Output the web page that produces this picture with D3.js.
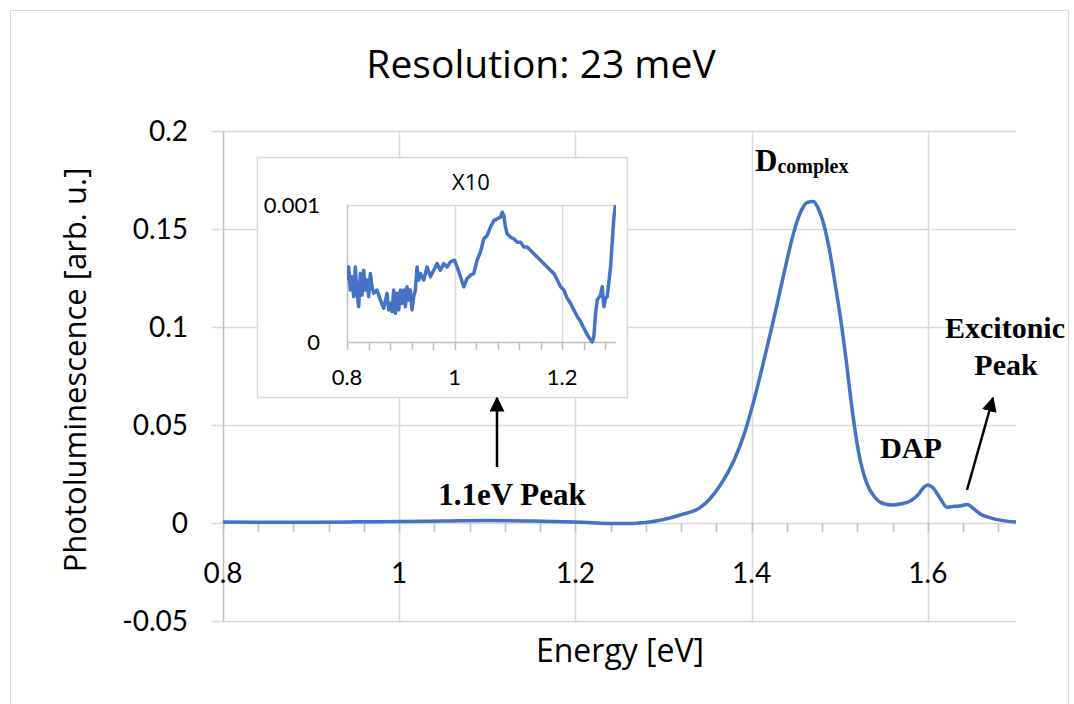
<!DOCTYPE html>
<html>
<head>
<meta charset="utf-8">
<script src="https://cdnjs.cloudflare.com/ajax/libs/d3/7.8.5/d3.min.js"></script>
<style>
  body { margin: 0; background: #fff; }
  svg { display: block; }
</style>
</head>
<body>
<svg id="chart" width="1074" height="704"></svg>
<script>
'use strict';

// main spectrum
var mainEnergy = [0.80, 0.85, 0.90, 0.95, 1.00, 1.05, 1.10, 1.15, 1.20, 1.25, 1.28, 1.30, 1.319, 1.341, 1.353,
  1.364, 1.380, 1.392, 1.404, 1.415, 1.426, 1.437, 1.447, 1.455, 1.463, 1.470, 1.476, 1.482, 1.488,
  1.494, 1.500, 1.507, 1.514, 1.521, 1.530, 1.540, 1.550, 1.560, 1.570, 1.580, 1.588, 1.595, 1.600,
  1.606, 1.614, 1.622, 1.630, 1.636, 1.645, 1.652, 1.660, 1.671, 1.685, 1.700];
var mainPL = [0.0005, 0.0004, 0.0004, 0.0006, 0.0008, 0.0010, 0.0013, 0.0010, 0.0005, -0.0003, 0.0003, 0.0018, 0.0041, 0.0077, 0.0125,
  0.0190, 0.032, 0.046, 0.065, 0.085, 0.106, 0.128, 0.147, 0.158, 0.1635, 0.164, 0.160, 0.152, 0.140,
  0.124, 0.107, 0.084, 0.058, 0.037, 0.021, 0.013, 0.0098, 0.0092, 0.0098, 0.0112, 0.0140, 0.0180, 0.0194,
  0.0178, 0.0125, 0.0080, 0.0085, 0.0087, 0.0095, 0.0072, 0.0045, 0.0026, 0.0012, 0.0005];

// inset (X10) low energy part
var insetEnergy = [0.8000, 0.8031, 0.8062, 0.8093, 0.8124, 0.8155, 0.8186, 0.8217, 0.8248, 0.8279, 0.8310, 0.8341,
  0.8372, 0.8403, 0.8434, 0.8465, 0.8496, 0.8558, 0.8620, 0.8682, 0.8744, 0.8775, 0.8806, 0.8837, 0.8868,
  0.8899, 0.8930, 0.8961, 0.8992, 0.9023, 0.9054, 0.9085, 0.9116, 0.9147, 0.9178, 0.9209, 0.9240, 0.9271,
  0.9302, 0.9333, 0.9364, 0.9426, 0.9488, 0.9550, 0.9612, 0.9674, 0.9736, 0.9798, 0.9860, 0.9922, 0.9997,
  1.0047, 1.0109, 1.0171, 1.0233, 1.0295, 1.0357, 1.0419, 1.0481, 1.0543, 1.0605, 1.0667, 1.0729, 1.0791,
  1.0853, 1.0884, 1.0915, 1.0946, 1.0977, 1.1039, 1.1101, 1.1163, 1.1225, 1.1287, 1.1349, 1.1411, 1.1473,
  1.1535, 1.1597, 1.1659, 1.1721, 1.1783, 1.1845, 1.1907, 1.1969, 1.2031, 1.2093, 1.2155, 1.2217, 1.2279,
  1.2341, 1.2403, 1.2465, 1.2527, 1.2558, 1.2589, 1.2620, 1.2651, 1.2713, 1.2744, 1.2775, 1.2806, 1.2837,
  1.2899, 1.2961, 1.2992, 1.3010];
var insetPL = [0.000452, 0.000548, 0.000379, 0.000476, 0.000331, 0.000548, 0.000355, 0.000258, 0.000500, 0.000343, 0.000524, 0.000379,
  0.000452, 0.000331, 0.000500, 0.000403, 0.000355, 0.000379, 0.000307, 0.000246, 0.000355, 0.000234, 0.000283, 0.000222, 0.000379,
  0.000210, 0.000355, 0.000234, 0.000379, 0.000283, 0.000379, 0.000258, 0.000403, 0.000307, 0.000379, 0.000234, 0.000331, 0.000379,
  0.000548, 0.000452, 0.000500, 0.000452, 0.000548, 0.000476, 0.000524, 0.000572, 0.000524, 0.000572, 0.000548, 0.000585, 0.000597,
  0.000548, 0.000476, 0.000403, 0.000464, 0.000488, 0.000500, 0.000597, 0.000657, 0.000754, 0.000778, 0.000838, 0.000886, 0.000899,
  0.000911, 0.000947, 0.000923, 0.000838, 0.000790, 0.000766, 0.000754, 0.000729, 0.000729, 0.000693, 0.000693, 0.000669, 0.000645,
  0.000621, 0.000597, 0.000572, 0.000548, 0.000524, 0.000500, 0.000452, 0.000403, 0.000379, 0.000319, 0.000283, 0.000234, 0.000186,
  0.000150, 0.000101, 0.000053, 0.000017, 0.000000, 0.000041, 0.000210, 0.000307, 0.000343, 0.000403, 0.000258, 0.000319, 0.000331,
  0.000548, 0.000911, 0.001000, 0.001200];

var xTicks = [0.8, 1, 1.2, 1.4, 1.6];
var yTicks = [-0.05, 0, 0.05, 0.1, 0.15, 0.2];
var insetXTicks = [0.8, 1, 1.2];
var insetYTicks = [0, 0.001];

var blue = '#4472C4',
    grid = '#D9D9D9',
    axisGray = '#BFBFBF',
    sans = 'Lato, "Open Sans", sans-serif',
    titleFont = '"Open Sans", Lato, sans-serif',
    serif = '"Liberation Serif", "Times New Roman", serif';

var svg = d3.select('#chart');

// outer chart border
svg.append('rect')
  .attr('x', 10.5).attr('y', 10.5)
  .attr('width', 1058).attr('height', 700)
  .attr('fill', '#fff').attr('stroke', grid);

var x = d3.scaleLinear().domain([0.8, 1.7]).range([223, 1016]);
var y = d3.scaleLinear().domain([-0.05, 0.2]).range([621, 131]);

// horizontal gridlines + left ticks
svg.append('g').selectAll('line').data(yTicks).join('line')
  .attr('x1', 212).attr('x2', x(1.7))
  .attr('y1', function(d) { return Math.round(y(d)) + 0.5; })
  .attr('y2', function(d) { return Math.round(y(d)) + 0.5; })
  .attr('stroke', grid).attr('stroke-width', 1.5);

// vertical gridlines
svg.append('g').selectAll('line').data(xTicks.slice(1)).join('line')
  .attr('x1', function(d) { return Math.round(x(d)) + 0.5; })
  .attr('x2', function(d) { return Math.round(x(d)) + 0.5; })
  .attr('y1', y(0.2)).attr('y2', y(-0.05))
  .attr('stroke', grid).attr('stroke-width', 1.5);

// y axis line
svg.append('line')
  .attr('x1', x(0.8) + 0.5).attr('x2', x(0.8) + 0.5)
  .attr('y1', y(0.2)).attr('y2', y(-0.05))
  .attr('stroke', axisGray).attr('stroke-width', 1.5);

// minor ticks on the zero line
var minor = d3.range(0, 23).map(function(i) { return 0.8 + i * 0.04; });
svg.append('g').selectAll('line').data(minor).join('line')
  .attr('x1', function(d) { return Math.round(x(d)) + 0.5; })
  .attr('x2', function(d) { return Math.round(x(d)) + 0.5; })
  .attr('y1', y(0)).attr('y2', y(0) + 9)
  .attr('stroke', axisGray).attr('stroke-width', 1.5);

// tick labels
svg.append('g').selectAll('text').data(yTicks).join('text')
  .attr('x', 188).attr('y', function(d) { return y(d) + 10; })
  .attr('text-anchor', 'end')
  .attr('font-family', sans).attr('font-size', 28)
  .text(function(d) { return d; });

svg.append('g').selectAll('text').data(xTicks).join('text')
  .attr('x', function(d) { return x(d); }).attr('y', 583)
  .attr('text-anchor', 'middle')
  .attr('font-family', sans).attr('font-size', 28)
  .text(function(d) { return d; });

// titles
svg.append('text')
  .attr('x', 541).attr('y', 78)
  .attr('text-anchor', 'middle')
  .attr('font-family', titleFont).attr('font-size', 39)
  .text('Resolution: 23 meV');

svg.append('text')
  .attr('x', 620).attr('y', 662)
  .attr('text-anchor', 'middle')
  .attr('font-family', titleFont).attr('font-size', 32)
  .text('Energy [eV]');

svg.append('text')
  .attr('transform', 'translate(86,370) rotate(-90)')
  .attr('text-anchor', 'middle')
  .attr('font-family', titleFont).attr('font-size', 31)
  .text('Photoluminescence [arb. u.]');

// main curve
var mainData = mainEnergy.map(function(e, i) { return [e, mainPL[i]]; });
var line = d3.line()
  .x(function(d) { return x(d[0]); })
  .y(function(d) { return y(d[1]); })
  .curve(d3.curveMonotoneX);

svg.append('path')
  .datum(mainData)
  .attr('d', line)
  .attr('fill', 'none')
  .attr('stroke', blue)
  .attr('stroke-width', 3.5)
  .attr('stroke-linejoin', 'round');

// ---- inset ----
svg.append('rect')
  .attr('x', 257.5).attr('y', 157.5)
  .attr('width', 370).attr('height', 240)
  .attr('fill', '#fff').attr('stroke', grid).attr('stroke-width', 1.5);

var ix = d3.scaleLinear().domain([0.8, 1.3]).range([347, 616]);
var iy = d3.scaleLinear().domain([0, 0.001]).range([342, 205]);

svg.append('line')
  .attr('x1', ix(0.8)).attr('x2', ix(1.3))
  .attr('y1', iy(0.001) + 0.5).attr('y2', iy(0.001) + 0.5)
  .attr('stroke', grid).attr('stroke-width', 1.5);

svg.append('g').selectAll('line').data(insetXTicks.slice(1)).join('line')
  .attr('x1', function(d) { return Math.round(ix(d)) + 0.5; })
  .attr('x2', function(d) { return Math.round(ix(d)) + 0.5; })
  .attr('y1', iy(0.001)).attr('y2', iy(0))
  .attr('stroke', grid).attr('stroke-width', 1.5);

svg.append('line')
  .attr('x1', ix(0.8) + 0.5).attr('x2', ix(0.8) + 0.5)
  .attr('y1', iy(0.001)).attr('y2', iy(0))
  .attr('stroke', axisGray).attr('stroke-width', 1.5);

svg.append('line')
  .attr('x1', ix(0.8)).attr('x2', ix(1.3))
  .attr('y1', iy(0) + 0.5).attr('y2', iy(0) + 0.5)
  .attr('stroke', axisGray).attr('stroke-width', 1.5);

var insetMinor = d3.range(0, 13).map(function(i) { return 0.8 + i * 0.04; });
svg.append('g').selectAll('line').data(insetMinor).join('line')
  .attr('x1', function(d) { return Math.round(ix(d)) + 0.5; })
  .attr('x2', function(d) { return Math.round(ix(d)) + 0.5; })
  .attr('y1', iy(0)).attr('y2', iy(0) + 8)
  .attr('stroke', axisGray).attr('stroke-width', 1.5);

svg.append('g').selectAll('text').data(insetYTicks).join('text')
  .attr('x', 320).attr('y', function(d) { return iy(d) + 8; })
  .attr('text-anchor', 'end')
  .attr('font-family', sans).attr('font-size', 22)
  .text(function(d) { return d; });

svg.append('g').selectAll('text').data(insetXTicks).join('text')
  .attr('x', function(d) { return ix(d); }).attr('y', 385)
  .attr('text-anchor', 'middle')
  .attr('font-family', sans).attr('font-size', 22)
  .text(function(d) { return d; });

svg.append('text')
  .attr('x', 471).attr('y', 190)
  .attr('text-anchor', 'middle')
  .attr('font-family', titleFont).attr('font-size', 22)
  .text('X10');

svg.append('clipPath').attr('id', 'insetClip')
  .append('rect')
  .attr('x', ix(0.8)).attr('y', iy(0.001))
  .attr('width', ix(1.3) - ix(0.8)).attr('height', iy(0) - iy(0.001) + 2);

var insetData = insetEnergy.map(function(e, i) { return [e, insetPL[i]]; });
var insetLine = d3.line()
  .x(function(d) { return ix(d[0]); })
  .y(function(d) { return iy(d[1]); });

svg.append('path')
  .datum(insetData)
  .attr('d', insetLine)
  .attr('clip-path', 'url(#insetClip)')
  .attr('fill', 'none')
  .attr('stroke', blue)
  .attr('stroke-width', 3.5)
  .attr('stroke-linejoin', 'round');

// ---- annotations ----
svg.append('defs').append('marker')
  .attr('id', 'head')
  .attr('viewBox', '0 0 10 10')
  .attr('refX', 9).attr('refY', 5)
  .attr('markerWidth', 6).attr('markerHeight', 6)
  .attr('markerUnits', 'strokeWidth')
  .attr('orient', 'auto')
  .append('path')
  .attr('d', 'M0,0 L10,5 L0,10 z')
  .attr('fill', '#000');

function arrow(x1, y1, x2, y2) {
  svg.append('line')
    .attr('x1', x1).attr('y1', y1)
    .attr('x2', x2).attr('y2', y2)
    .attr('stroke', '#000').attr('stroke-width', 2.5)
    .attr('marker-end', 'url(#head)');
}

arrow(497, 467, 497, 398);
arrow(967, 490, 993, 398);

function label(tx, ty, str, size, anchor) {
  return svg.append('text')
    .attr('x', tx).attr('y', ty)
    .attr('text-anchor', anchor || 'middle')
    .attr('font-family', serif).attr('font-weight', 'bold')
    .attr('font-size', size)
    .text(str);
}

label(512, 505, '1.1eV Peak', 31);
label(911, 458, 'DAP', 30);
label(1005, 338, 'Excitonic', 30);
label(1006, 375, 'Peak', 30);

var dc = svg.append('text')
  .attr('x', 755).attr('y', 171)
  .attr('font-family', serif).attr('font-weight', 'bold')
  .attr('font-size', 31);
dc.append('tspan').text('D');
dc.append('tspan').attr('font-size', 20).attr('dy', 2).text('complex');
</script>
</body>
</html>
